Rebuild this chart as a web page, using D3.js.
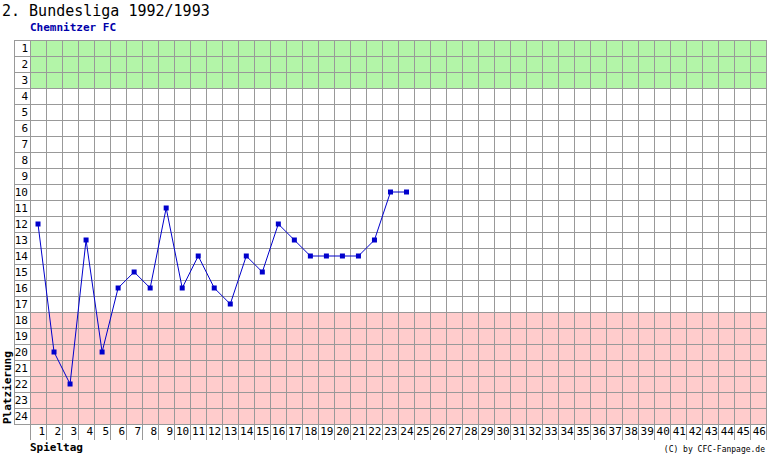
<!DOCTYPE html>
<html><head><meta charset="utf-8">
<script src="https://cdn.jsdelivr.net/npm/d3@7"></script>
<style>body{margin:0;background:#fff}</style>
</head><body><svg id="c" width="767" height="455"></svg>
<script>
const title = '2. Bundesliga 1992/1993'
const team = 'Chemnitzer FC'
const spieltage = d3.range(1, 47)
const plaetze = d3.range(1, 25)
const platzierung = [12, 20, 22, 13, 20, 16, 15, 16, 11, 16, 14, 16, 17, 14, 15, 12, 13, 14, 14, 14, 14, 13, 10, 10]

const svg = d3.select('#c')
const plotLeft = 30, plotTop = 40, plotRight = 767, plotBottom = 424
const font = 'DejaVu Sans Mono, monospace'

const x = d3.scaleBand().domain(spieltage).range([plotLeft, plotRight])
const y = d3.scaleBand().domain(plaetze).range([plotTop, plotBottom])

// zones
svg.append('rect').attr('x', plotLeft).attr('y', y(1)).attr('width', plotRight - plotLeft)
  .attr('height', y(4) - y(1)).attr('fill', '#b3f5a8')
svg.append('rect').attr('x', plotLeft).attr('y', y(18)).attr('width', plotRight - plotLeft)
  .attr('height', plotBottom - y(18)).attr('fill', '#ffcccc')

// grid
const grid = svg.append('g').attr('stroke', '#999').attr('stroke-width', 1).attr('shape-rendering', 'crispEdges')
grid.selectAll('.h').data(plaetze.concat([25])).join('line')
  .attr('x1', 14).attr('x2', plotRight)
  .attr('y1', d => d === 25 ? plotBottom : y(d)).attr('y2', d => d === 25 ? plotBottom : y(d))
grid.selectAll('.v').data(spieltage.concat([47])).join('line')
  .attr('x1', d => d === 47 ? plotRight - 0.5 : x(d)).attr('x2', d => d === 47 ? plotRight - 0.5 : x(d))
  .attr('y1', plotTop).attr('y2', 440)
grid.append('line').attr('x1', 14).attr('x2', 14).attr('y1', plotTop).attr('y2', plotBottom)

// labels
svg.append('g').selectAll('text').data(plaetze).join('text')
  .attr('x', plotLeft - 2).attr('y', d => y(d) + y.bandwidth() / 2 + 4)
  .attr('text-anchor', 'end').attr('font-family', font).attr('font-size', 11).text(d => d)
svg.append('g').selectAll('text').data(spieltage).join('text')
  .attr('x', d => x(d) + x.bandwidth() - 1).attr('y', 435)
  .attr('text-anchor', 'end').attr('font-family', font).attr('font-size', 11).text(d => d)

svg.append('text').attr('x', 2).attr('y', 16).attr('font-family', font).attr('font-size', 15).text(title)
svg.append('text').attr('x', 30).attr('y', 31).attr('font-family', font).attr('font-size', 11)
  .attr('font-weight', 'bold').attr('fill', '#0000aa').text(team)
svg.append('text').attr('x', 30).attr('y', 451).attr('font-family', font).attr('font-size', 11)
  .attr('font-weight', 'bold').text('Spieltag')
svg.append('text').attr('transform', 'translate(11,424) rotate(-90)').attr('font-family', font)
  .attr('font-size', 11).attr('font-weight', 'bold').text('Platzierung')
svg.append('text').attr('x', 765).attr('y', 452).attr('text-anchor', 'end').attr('font-family', font)
  .attr('font-size', 8).text('(C) by CFC-Fanpage.de')

// line
const pts = platzierung.map((p, i) => [x(i + 1) + x.bandwidth() / 2, y(p) + y.bandwidth() / 2])
svg.append('path').attr('d', d3.line()(pts)).attr('fill', 'none').attr('stroke', '#0000cc').attr('stroke-width', 1)
svg.selectAll('.pt').data(pts).join('rect')
  .attr('x', d => d[0] - 2.5).attr('y', d => d[1] - 2.5).attr('width', 5).attr('height', 5).attr('fill', '#0000cc')
</script></body></html>
